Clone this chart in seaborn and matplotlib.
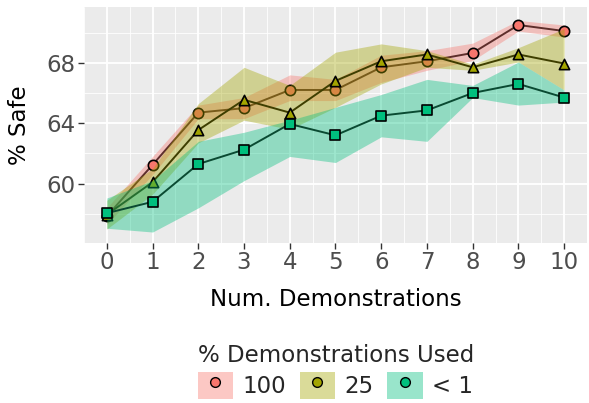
import numpy as np
import pandas as pd
import matplotlib
matplotlib.use("Agg")
import matplotlib.pyplot as plt
from matplotlib.patches import Patch
from matplotlib.lines import Line2D
from matplotlib.legend_handler import HandlerTuple
import seaborn as sns

# data
demos = list(range(11))
groups = ["100", "25", "< 1"]

safe_100 = [57.85, 61.25, 64.7, 65.0, 66.2, 66.2, 67.7, 68.1, 68.65, 70.5, 70.1]
lo_100 = [57.3, 60.6, 64.3, 64.3, 65.5, 65.5, 66.7, 67.5, 68.15, 70.1, 69.7]
hi_100 = [58.4, 61.8, 65.2, 65.7, 67.2, 66.9, 68.5, 68.8, 69.3, 70.8, 70.5]

safe_25 = [57.95, 60.1, 63.55, 65.55, 64.7, 66.8, 68.1, 68.55, 67.7, 68.55, 67.95]
lo_25 = [57.0, 59.3, 62.7, 64.2, 63.6, 65.05, 66.6, 67.7, 67.5, 68.05, 66.2]
hi_25 = [58.9, 61.0, 65.3, 67.7, 66.5, 68.7, 69.25, 68.8, 67.9, 69.0, 70.25]

safe_lt1 = [58.05, 58.8, 61.3, 62.25, 63.95, 63.2, 64.5, 64.85, 66.0, 66.6, 65.7]
lo_lt1 = [57.05, 56.8, 58.4, 60.2, 61.8, 61.4, 63.1, 62.8, 65.7, 65.2, 65.4]
hi_lt1 = [59.05, 60.2, 62.8, 63.4, 64.2, 65.05, 65.9, 66.9, 66.5, 68.05, 66.2]

fill_colors = ["#F8766D", "#A3A500", "#00BF7D"]
line_colors = ["#5E2E2B", "#3E3E00", "#0A4A32"]
markers = ["o", "^", "s"]

df = pd.DataFrame({
    "demos": demos * 3,
    "safe": safe_100 + safe_25 + safe_lt1,
    "lo": lo_100 + lo_25 + lo_lt1,
    "hi": hi_100 + hi_25 + hi_lt1,
    "group": [g for g in groups for _ in demos],
})

sns.set_theme(style="darkgrid")
plt.rcParams["font.family"] = ["DejaVu Sans"]
FS = 16.5

fig = plt.figure(figsize=(5.89, 4.03), dpi=100)
ax = fig.add_axes([0.1426, 0.398, 0.8540, 0.585])
ax.set_facecolor("#EBEBEB")

for i, g in enumerate(groups):
    sub = df[df["group"] == g]
    ax.fill_between(sub["demos"], sub["lo"], sub["hi"], color=fill_colors[i],
                    alpha=0.38, lw=0, zorder=2 + i * 3)
    sns.lineplot(data=sub, x="demos", y="safe", color=line_colors[i], lw=1.4,
                 ax=ax, zorder=3 + i * 3, legend=False)
    sns.scatterplot(data=sub, x="demos", y="safe", color=fill_colors[i],
                    marker=markers[i], s=55, edgecolor="black", linewidth=1.2,
                    ax=ax, zorder=4 + i * 3, legend=False)

ax.set_xlim(-0.5, 10.5)
ax.set_ylim(56.1, 71.7)
ax.set_xticks(demos)
ax.set_yticks([60, 64, 68])
ax.set_xticks(np.arange(-0.5, 10.6, 1), minor=True)
ax.set_yticks([58, 62, 66, 70], minor=True)
ax.grid(which="major", color="white", lw=1.3)
ax.grid(which="minor", color="white", lw=0.6)
for s in ax.spines.values():
    s.set_visible(False)
ax.tick_params(which="major", length=4, width=1, color="#333333",
               labelsize=FS, labelcolor="#4D4D4D", pad=2, bottom=True, left=True)
ax.tick_params(which="minor", length=0)
ax.set_xlabel("Num. Demonstrations", fontsize=FS, color="black", labelpad=10)
ax.set_ylabel("% Safe", fontsize=FS, color="black", labelpad=11)

handles = []
for i, g in enumerate(groups):
    patch = Patch(facecolor=fill_colors[i], alpha=0.4, edgecolor="none")
    dot = Line2D([], [], marker="o", ls="none", markersize=7,
                 markerfacecolor=fill_colors[i], markeredgecolor="black", markeredgewidth=1.0)
    handles.append((patch, dot))

leg = fig.legend(handles, groups, handler_map={tuple: HandlerTuple(ndivide=1, pad=0)},
                 loc="lower center", bbox_to_anchor=(0.57, -0.03), ncol=3, frameon=False,
                 title="% Demonstrations Used", title_fontsize=FS, fontsize=FS,
                 handlelength=1.55, handleheight=1.45, handletextpad=0.4,
                 columnspacing=0.6, alignment="left", borderpad=0.2, labelspacing=0.2)

fig.savefig("out.png", dpi=100)
